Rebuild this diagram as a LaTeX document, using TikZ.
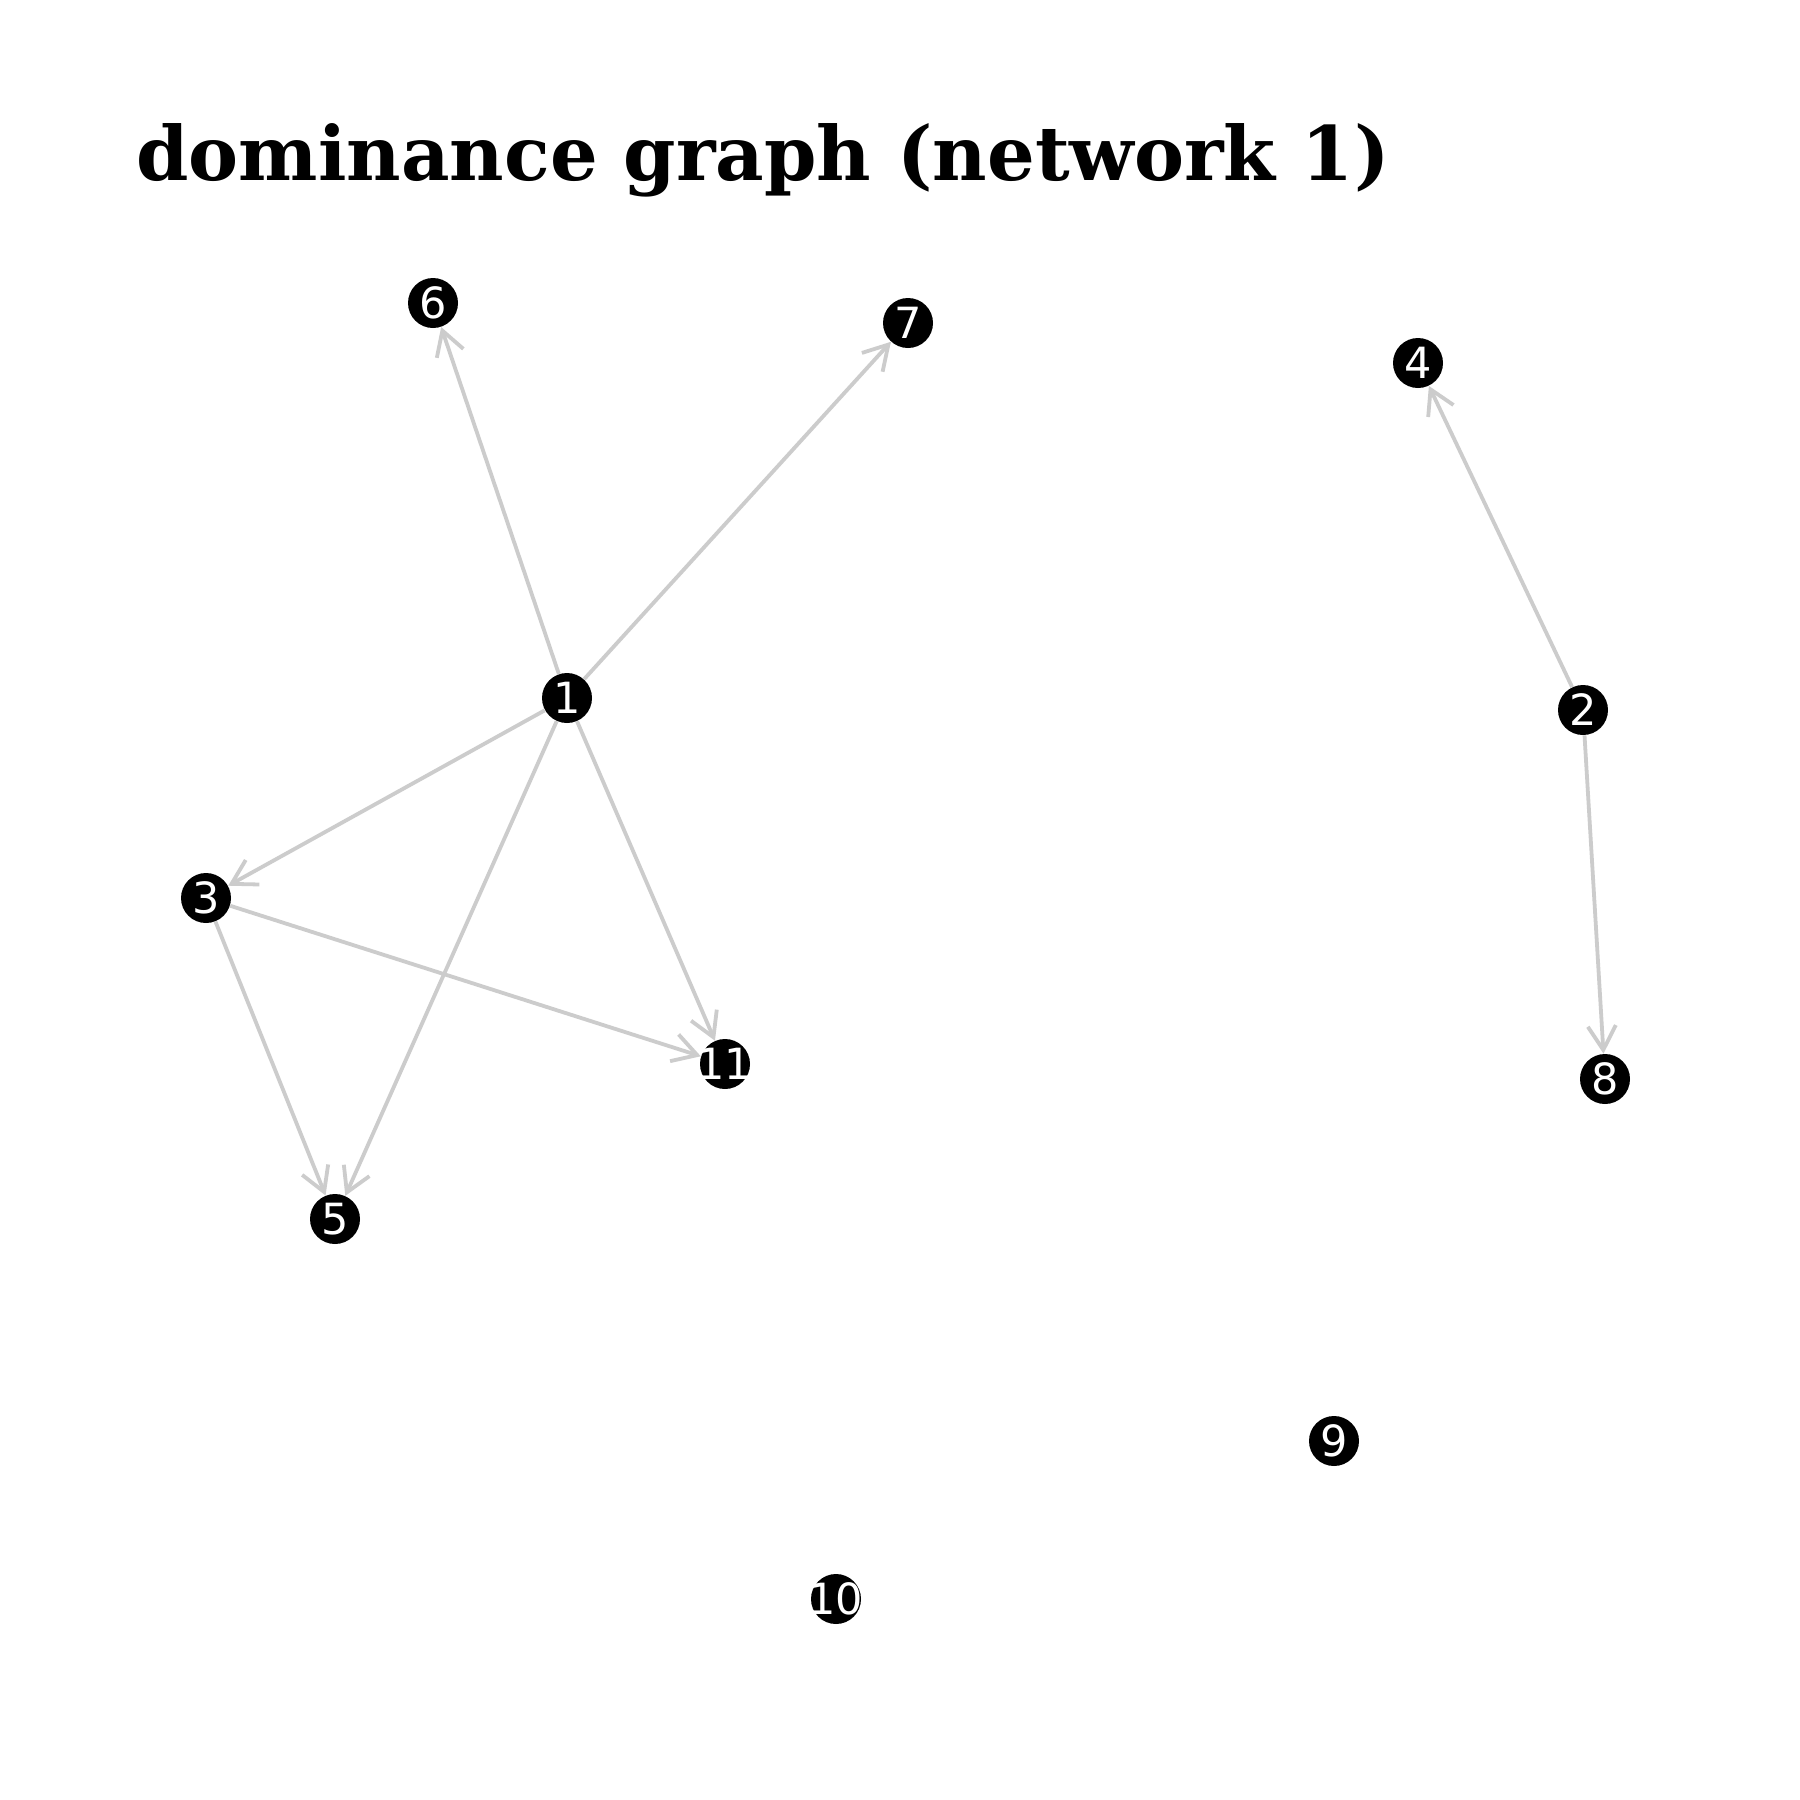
\documentclass[tikz,border=0pt]{standalone}
\usepackage{fontspec}
\setmainfont{DejaVu Sans}
\newfontfamily\titlefont{DejaVu Serif}
\usetikzlibrary{arrows.meta}
\begin{document}
\begin{tikzpicture}[x=0.5pt,y=-0.5pt,
  vtx/.style={circle,fill=black,inner sep=0pt,minimum size=25pt},
  lbl/.style={text=white,inner sep=0pt,font=\fontsize{21.5pt}{21.5pt}\selectfont},
  edge/.style={draw=black!20,line width=1.9pt,-{Straight Barb[length=12pt,width=14pt,line width=1.9pt]}}]
\useasboundingbox[fill=white] (0,0) rectangle (1800,1800);
\node[anchor=base west,inner sep=0pt,font=\titlefont\bfseries\fontsize{37.5pt}{37.5pt}\selectfont] (title) at (136,180) {dominance graph (network 1)};
\node[vtx,label={[lbl]center:1}] (n1) at (567,698) {};
\node[vtx,label={[lbl]center:2}] (n2) at (1583,710) {};
\node[vtx,label={[lbl]center:3}] (n3) at (206,898) {};
\node[vtx,label={[lbl]center:4}] (n4) at (1418,363) {};
\node[vtx,label={[lbl]center:5}] (n5) at (335,1219) {};
\node[vtx,label={[lbl]center:6}] (n6) at (433,303) {};
\node[vtx,label={[lbl]center:7}] (n7) at (908,323) {};
\node[vtx,label={[lbl]center:8}] (n8) at (1605,1079) {};
\node[vtx,label={[lbl]center:9}] (n9) at (1334,1441) {};
\node[vtx,label={[lbl]center:10}] (n10) at (836,1599) {};
\node[vtx,label={[lbl]center:11}] (n11) at (725,1064) {};
\draw[edge] (n1) -- (n6);
\draw[edge] (n1) -- (n7);
\draw[edge] (n1) -- (n3);
\draw[edge] (n1) -- (n5);
\draw[edge] (n1) -- (n11);
\draw[edge] (n3) -- (n11);
\draw[edge] (n3) -- (n5);
\draw[edge] (n2) -- (n4);
\draw[edge] (n2) -- (n8);
\end{tikzpicture}
\end{document}
